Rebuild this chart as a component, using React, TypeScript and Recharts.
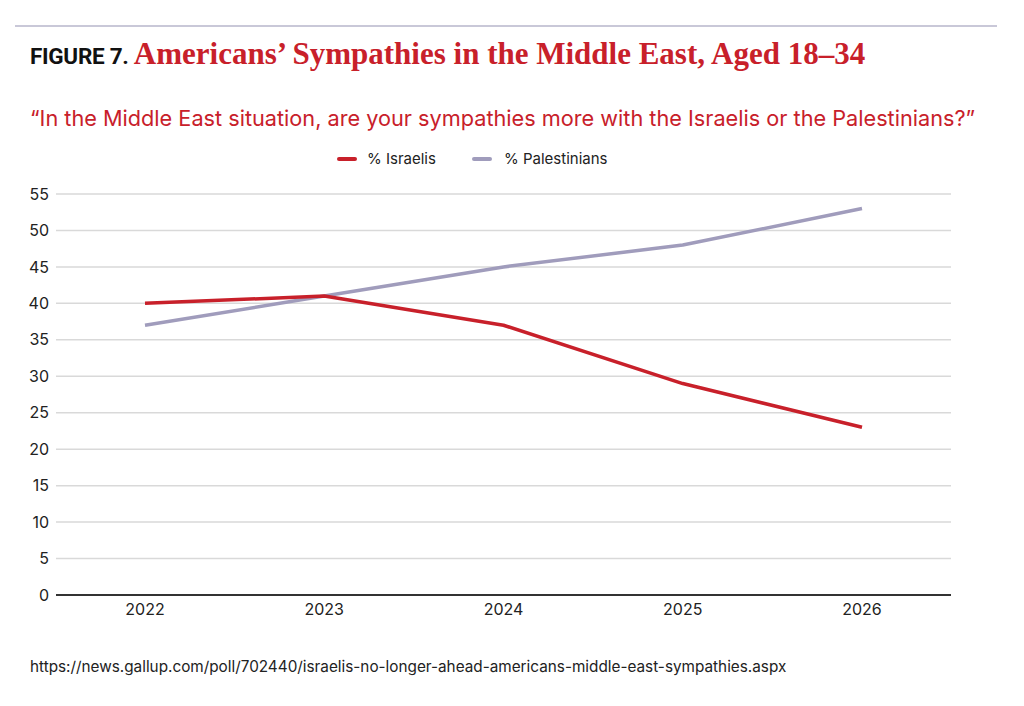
import React from "react";
import { LineChart, Line, XAxis, YAxis, CartesianGrid } from "recharts";

const years = ["2022", "2023", "2024", "2025", "2026"];
const israelis = [40, 41, 37, 29, 23];
const palestinians = [37, 41, 45, 48, 53];
const yTicks = [0, 5, 10, 15, 20, 25, 30, 35, 40, 45, 50, 55];

const data = years.map((y, i) => ({ year: y, israelis: israelis[i], palestinians: palestinians[i] }));

const RED = "#c8202a";
const LAV = "#a09cbc";

export default function App() {
  return (
    <div style={{ position: "absolute", left: 0, top: 0, width: 1024, height: 706, background: "#fff", overflow: "hidden" }}>
      <div style={{ position: "absolute", left: 15, top: 25, width: 982, height: 2, background: "#c9c8d8" }} />
      <div style={{ position: "absolute", left: 30, top: 36, whiteSpace: "nowrap", lineHeight: "36px" }}>
        <span style={{ fontFamily: "Roboto", fontWeight: 700, fontSize: 22.5, color: "#111", letterSpacing: -0.3 }}>FIGURE 7. </span>
        <span style={{ fontFamily: "Liberation Serif", fontWeight: 700, fontSize: 31, color: RED }}>Americans’ Sympathies in the Middle East, Aged 18–34</span>
      </div>
      <div style={{ position: "absolute", left: 30, top: 104, whiteSpace: "nowrap", fontFamily: "Inter", fontSize: 21.7, color: RED, lineHeight: "28px" }}>
        “In the Middle East situation, are your sympathies more with the Israelis or the Palestinians?”
      </div>
      <div style={{ position: "absolute", left: 0, top: 149, width: 1024, height: 20, fontFamily: "Inter", fontSize: 15, color: "#222" }}>
        <div style={{ position: "absolute", left: 337, top: 8, width: 20, height: 4, borderRadius: 2, background: RED }} />
        <div style={{ position: "absolute", left: 367, top: 0, lineHeight: "20px" }}>% Israelis</div>
        <div style={{ position: "absolute", left: 472, top: 8, width: 20, height: 4, borderRadius: 2, background: LAV }} />
        <div style={{ position: "absolute", left: 504, top: 0, lineHeight: "20px" }}>% Palestinians</div>
      </div>
      <div style={{ position: "absolute", left: 0, top: 0 }}>
        <LineChart width={1024} height={706} data={data} margin={{ top: 194, right: 73, bottom: 81, left: 0 }}>
          <CartesianGrid vertical={false} stroke="#d9d9d9" strokeWidth={1.5} />
          <XAxis
            dataKey="year"
            padding={{ left: 89, right: 89 }}
            tickLine={false}
            axisLine={{ stroke: "#333", strokeWidth: 2 }}
            tick={{ fill: "#222", fontSize: 16, fontFamily: "Inter" }}
            tickMargin={3}
            height={30}
          />
          <YAxis
            domain={[0, 55]}
            ticks={yTicks}
            interval={0}
            width={56}
            axisLine={false}
            tickLine={false}
            tick={{ fill: "#222", fontSize: 16, fontFamily: "Inter" }}
            tickMargin={1}
          />
          <Line type="linear" dataKey="palestinians" stroke={LAV} strokeWidth={3.5} strokeLinejoin="round" dot={false} isAnimationActive={false} />
          <Line type="linear" dataKey="israelis" stroke={RED} strokeWidth={3.5} strokeLinejoin="round" dot={false} isAnimationActive={false} />
        </LineChart>
      </div>
      <div style={{ position: "absolute", left: 30, top: 656, whiteSpace: "nowrap", fontFamily: "Inter", fontSize: 15.3, color: "#222", lineHeight: "22px" }}>
        https://news.gallup.com/poll/702440/israelis-no-longer-ahead-americans-middle-east-sympathies.aspx
      </div>
    </div>
  );
}
